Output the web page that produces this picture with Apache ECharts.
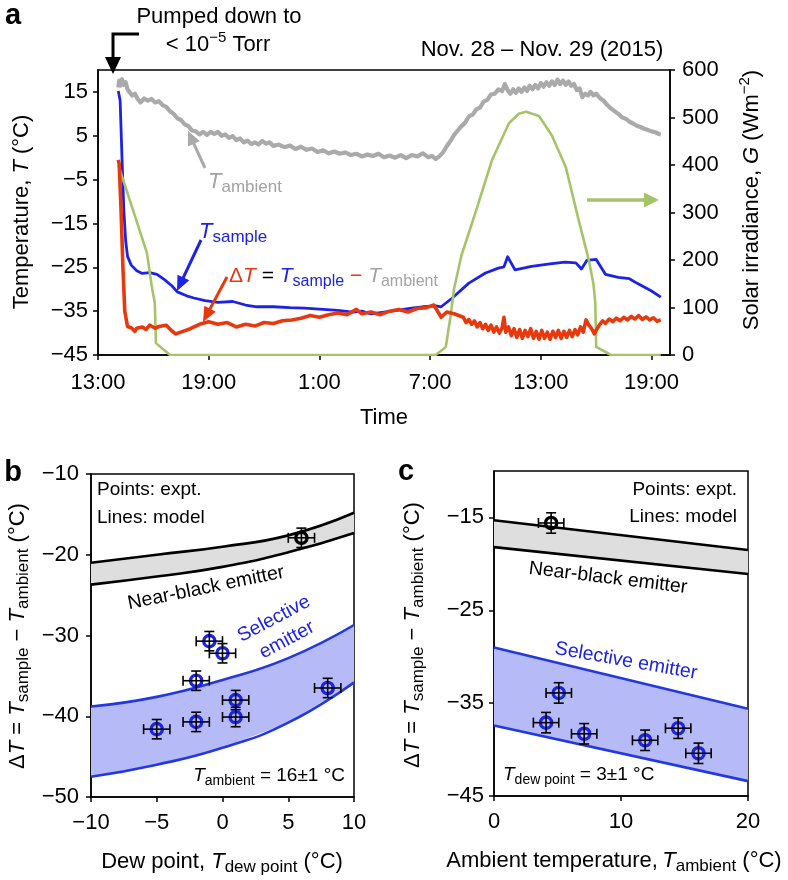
<!DOCTYPE html>
<html><head><meta charset="utf-8">
<script src="https://cdn.jsdelivr.net/npm/echarts@6/dist/echarts.min.js"></script>
<style>html,body{margin:0;padding:0;background:#fff}#c{width:788px;height:880px}</style>
</head><body><div id="c"></div>
<script>
// ---------------- Panel a data (x = hours after 13:00, Nov. 28) ----------------
const timeTickHours = [0, 6, 12, 18, 24, 30];
const timeTickLabels = ['13:00', '19:00', '1:00', '7:00', '13:00', '19:00'];
const tempTicks = [-45, -35, -25, -15, -5, 5, 15];

const ambientData = [[1.1,16.0],[1.15,17.6],[1.2,16.4],[1.3,17.9],[1.4,16.6],[1.5,17.2],[1.6,15.6],[1.7,15.0],[1.85,14.2],[2.0,14.6],[2.15,13.4],[2.3,12.6],[2.5,13.5],[2.7,13.0],[2.9,13.4],[3.1,12.6],[3.3,12.9],[3.5,12.0],[3.7,11.6],[3.9,10.6],[4.1,10.0],[4.3,9.0],[4.5,8.6],[4.7,7.6],[4.9,7.2],[5.1,6.2],[5.3,6.0],[5.5,5.3],[5.7,5.9],[5.9,5.2],[6.1,5.9],[6.3,5.4],[6.5,5.9],[6.7,5.0],[6.9,5.3],[7.1,4.5],[7.3,4.9],[7.5,4.0],[7.7,4.4],[7.9,3.5],[8.1,3.9],[8.3,3.1],[8.5,3.5],[8.7,3.0],[8.9,3.8],[9.1,3.2],[9.3,3.5],[9.5,2.7],[9.8,3.0],[10.1,2.4],[10.4,2.8],[10.7,2.0],[11.0,2.5],[11.3,1.8],[11.6,2.1],[11.9,1.3],[12.2,1.7],[12.5,1.0],[12.8,1.4],[13.1,0.9],[13.4,1.2],[13.7,0.6],[14.0,0.9],[14.3,0.3],[14.6,0.7],[14.9,0.4],[15.2,0.9],[15.5,0.1],[15.8,0.5],[16.1,0.0],[16.4,0.6],[16.7,-0.1],[17.0,0.6],[17.3,0.3],[17.6,1.0],[17.9,0.1],[18.1,0.4],[18.3,-0.3],[18.5,0.3],[18.7,1.2],[18.9,2.6],[19.1,3.8],[19.3,5.2],[19.5,6.2],[19.7,7.2],[19.9,8.0],[20.1,9.4],[20.3,9.8],[20.5,11.0],[20.7,11.4],[20.9,12.8],[21.1,13.2],[21.3,14.4],[21.5,14.6],[21.7,15.6],[21.9,15.2],[22.05,16.8],[22.2,15.4],[22.35,14.6],[22.5,15.6],[22.65,14.8],[22.8,15.8],[22.95,15.0],[23.1,16.0],[23.25,15.2],[23.4,16.4],[23.55,15.6],[23.7,16.6],[23.85,15.8],[24.0,17.0],[24.15,16.2],[24.3,17.2],[24.45,16.4],[24.6,17.4],[24.75,16.6],[24.9,17.8],[25.05,16.8],[25.2,17.6],[25.35,16.6],[25.5,17.4],[25.65,16.4],[25.8,16.8],[25.95,15.4],[26.1,15.8],[26.25,13.8],[26.4,14.6],[26.55,14.2],[26.7,15.0],[26.85,14.2],[27.0,14.6],[27.2,13.6],[27.4,13.0],[27.6,12.0],[27.8,11.2],[28.0,10.6],[28.2,10.0],[28.4,9.2],[28.6,8.9],[28.8,8.2],[29.0,7.8],[29.2,7.3],[29.4,7.0],[29.6,6.6],[29.8,6.3],[30.0,6.0],[30.2,5.8],[30.4,5.4],[30.5,5.3]];

const sampleData = [[1.1,15.2],[1.2,13.0],[1.3,0.0],[1.4,-12.0],[1.5,-19.0],[1.6,-22.5],[1.8,-24.5],[2.1,-25.8],[2.4,-26.4],[2.8,-26.2],[3.2,-26.6],[3.6,-27.8],[4.0,-29.2],[4.3,-30.6],[4.8,-31.5],[5.2,-32.0],[5.8,-32.6],[6.5,-33.0],[7.3,-32.8],[8.0,-33.6],[8.6,-34.0],[9.5,-34.0],[10.4,-34.2],[11.2,-34.3],[12.2,-34.6],[13.0,-34.8],[13.8,-35.2],[14.3,-35.0],[14.8,-35.6],[15.5,-35.2],[16.2,-34.8],[17.0,-34.3],[17.6,-34.0],[18.3,-33.8],[18.6,-34.0],[19.2,-32.0],[20.1,-28.6],[21.0,-26.3],[21.7,-25.2],[22.0,-24.9],[22.2,-22.6],[22.6,-25.6],[23.5,-24.8],[24.5,-24.2],[25.3,-23.8],[25.9,-24.0],[26.2,-25.4],[26.5,-23.4],[27.0,-23.2],[27.5,-26.6],[28.2,-27.3],[28.8,-27.6],[29.2,-28.6],[30.0,-30.4],[30.5,-31.8]];

const deltaData = [[1.1,-0.5],[1.15,-1.5],[1.25,-12.0],[1.35,-25.0],[1.45,-35.0],[1.6,-38.5],[1.8,-38.8],[2.0,-39.6],[2.1,-38.9],[2.4,-38.6],[2.6,-39.2],[2.8,-38.2],[3.1,-38.9],[3.3,-38.5],[3.7,-38.2],[4.0,-39.5],[4.2,-40.2],[4.6,-39.6],[5.0,-39.0],[5.5,-38.0],[6.0,-37.4],[6.5,-38.0],[7.0,-37.6],[7.5,-38.6],[8.0,-38.0],[8.5,-38.4],[9.0,-37.6],[9.5,-37.8],[10.0,-37.2],[10.5,-37.0],[11.0,-36.6],[11.5,-36.0],[12.0,-36.4],[12.5,-35.8],[13.0,-35.4],[13.5,-35.8],[14.0,-34.6],[14.3,-35.6],[14.8,-35.2],[15.3,-35.8],[15.8,-35.0],[16.3,-34.6],[16.8,-35.2],[17.3,-34.4],[17.8,-34.2],[18.2,-33.6],[18.6,-36.4],[18.9,-35.2],[19.3,-35.6],[19.8,-36.4],[19.95,-37.6],[20.1,-36.9],[20.25,-38.0],[20.4,-37.2],[20.55,-38.6],[20.7,-37.6],[20.85,-39.0],[21.0,-38.0],[21.15,-39.4],[21.3,-38.2],[21.45,-39.8],[21.6,-38.6],[21.75,-40.0],[21.9,-38.8],[22.0,-36.4],[22.1,-39.8],[22.25,-38.6],[22.4,-40.6],[22.55,-39.0],[22.7,-41.0],[22.85,-39.2],[23.0,-41.2],[23.15,-39.4],[23.3,-40.8],[23.45,-39.0],[23.6,-41.2],[23.75,-39.6],[23.9,-41.4],[24.05,-39.4],[24.2,-41.2],[24.35,-39.8],[24.5,-41.4],[24.65,-39.6],[24.8,-41.0],[24.95,-39.4],[25.1,-41.2],[25.25,-39.6],[25.4,-41.0],[25.55,-39.4],[25.7,-40.8],[25.85,-39.2],[26.0,-40.4],[26.15,-38.6],[26.3,-39.8],[26.45,-37.0],[26.6,-38.2],[26.75,-39.0],[26.9,-40.2],[27.05,-39.0],[27.2,-38.0],[27.35,-37.2],[27.5,-37.8],[27.7,-36.8],[27.9,-37.4],[28.1,-36.6],[28.3,-37.2],[28.5,-36.4],[28.7,-37.0],[28.9,-36.2],[29.1,-36.8],[29.3,-36.0],[29.5,-36.9],[29.7,-36.3],[29.9,-37.0],[30.1,-36.5],[30.3,-37.3],[30.5,-37.0]];

const solarData = [[1.1,400],[1.9,305],[2.65,215],[2.92,143],[3.08,109],[3.14,25],[3.9,0],[18.3,0],[18.85,17],[19.1,80],[19.3,140],[19.7,210],[20.5,305],[21.35,410],[22.27,488],[22.8,508],[23.2,512],[23.9,503],[24.6,462],[25.35,396],[26.05,284],[26.6,200],[26.85,150],[26.95,110],[27.0,17],[27.8,0],[30.5,0]];

// ---------------- Panel b data (dew point) ----------------
const bandBX = [-10, -5, 0, 5, 10];
const nearBlackUpperB = [-21.0, -20.0, -19.0, -17.6, -14.8];
const nearBlackLowerB = [-23.7, -22.7, -21.5, -19.7, -17.3];
const selectiveUpperB = [-38.8, -37.6, -35.5, -32.8, -28.7];
const selectiveLowerB = [-47.5, -46.0, -43.9, -40.8, -35.8];
const dewSelX = [-5, -2, -2, -1, 0, 1, 1, 8];
const dewSelY = [-41.6, -40.7, -35.6, -30.7, -32.2, -38.0, -40.1, -36.5];
const dewBlackX = [6];
const dewBlackY = [-17.9];
const errXB = 1, errYB = 1.2;

// ---------------- Panel c data (ambient temperature) ----------------
const bandCX = [0, 20];
const nearBlackUpperC = [-15.3, -18.5];
const nearBlackLowerC = [-18.2, -21.1];
const selectiveUpperC = [-29.0, -35.6];
const selectiveLowerC = [-37.4, -43.4];
const ambSelX = [4.1, 5.1, 7.1, 11.9, 14.5, 16.1];
const ambSelY = [-37.1, -33.9, -38.3, -39.0, -37.7, -40.4];
const ambBlackX = [4.5];
const ambBlackY = [-15.6];
const errXC = 1, errYC = 1.1;
const tempTicksC = [-45, -35, -25, -15];

// ---------------- styling ----------------
const F = "'Liberation Sans', Arial, Helvetica, sans-serif";
const C_GRAY = '#aaaaaa', C_BLUE = '#1c22e6', C_RED = '#e8380e', C_GREEN = '#a5c46a';
const C_BAND_BLUE = '#b6bbf7', C_BAND_GRAY = '#dedede', C_LINE_BLUE = '#2438e0';
const FS = 22;
const minus = v => String(v).replace('-', '\u2212');
const pairs = (xs, ys) => xs.map((x, i) => [x, ys[i]]);

function mkAxis(o) {
  const a = {
    type: 'value',
    axisLine: { show: true, onZero: false, lineStyle: { color: '#000', width: 1.5 } },
    axisTick: { show: true, length: 5, lineStyle: { color: '#000', width: 1.5 } },
    axisLabel: { color: '#000', fontFamily: F, fontSize: FS, formatter: minus },
    splitLine: { show: false }
  };
  for (const k in o) {
    if (typeof o[k] === 'object' && !Array.isArray(o[k]) && a[k]) Object.assign(a[k], o[k]);
    else a[k] = o[k];
  }
  return a;
}

function rich(S, colors) {
  const r = {};
  for (const k in colors) {
    const c = colors[k];
    r[k + 'n'] = { fontSize: S, fontFamily: F, fill: c, lineHeight: S * 1.3 };
    r[k + 'i'] = { fontSize: S, fontFamily: F, fill: c, fontStyle: 'italic', lineHeight: S * 1.3 };
    r[k + 's'] = { fontSize: Math.round(S * 0.75), fontFamily: F, fill: c, lineHeight: S * 0.45, verticalAlign: 'bottom' };
    r[k + 'p'] = { fontSize: Math.round(S * 0.7), fontFamily: F, fill: c, lineHeight: S * 0.45, verticalAlign: 'top' };
  }
  return r;
}
function txt(x, y, text, S, colors, opt) {
  opt = opt || {};
  return { type: 'text', x: x, y: y, rotation: (opt.rot || 0) * Math.PI / 180, z: 100,
    style: { text: text, rich: rich(S, colors), fontFamily: F, fontSize: S, fill: '#000',
      fontWeight: opt.bold ? 'bold' : 'normal',
      align: opt.align || 'center', verticalAlign: 'middle' } };
}
function arrow(x1, y1, x2, y2, color, w, hl, hw) {
  const ang = Math.atan2(y2 - y1, x2 - x1);
  const bx = x2 - hl * Math.cos(ang), by = y2 - hl * Math.sin(ang);
  const px = -Math.sin(ang) * hw / 2, py = Math.cos(ang) * hw / 2;
  return [
    { type: 'line', z: 50, shape: { x1: x1, y1: y1, x2: bx + (x2 - bx) * 0.2, y2: by + (y2 - by) * 0.2 }, style: { stroke: color, lineWidth: w } },
    { type: 'polygon', z: 50, shape: { points: [[x2, y2], [bx + px, by + py], [bx - px, by - py]] }, style: { fill: color } }
  ];
}

function lineSeries(data, yi, color, width, z) {
  return { type: 'line', xAxisIndex: 0, yAxisIndex: yi, data: data, showSymbol: false, symbol: 'none',
    lineStyle: { color: color, width: width, join: 'round' }, z: z, silent: true };
}
function curveSeries(xi, yi, xs, ys, color, smooth) {
  return { type: 'line', xAxisIndex: xi, yAxisIndex: yi, data: pairs(xs, ys), smooth: smooth,
    symbol: 'none', showSymbol: false, lineStyle: { color: color, width: 2.6 }, z: 4, silent: true };
}
function bandFill(xi, yi, xs, lower, upper, fill) {
  return { type: 'custom', xAxisIndex: xi, yAxisIndex: yi, data: [[xs[0], lower[0]]], z: 2, silent: true, clip: true,
    renderItem: function (params, api) {
      const top = xs.map((x, i) => api.coord([x, upper[i]]));
      const bot = xs.map((x, i) => api.coord([x, lower[i]])).reverse();
      return { type: 'polygon', shape: { points: top.concat(bot) }, style: { fill: fill } };
    } };
}
function pointSeries(xi, yi, xs, ys, ex, ey, ring) {
  return { type: 'custom', xAxisIndex: xi, yAxisIndex: yi, data: pairs(xs, ys), z: 10, silent: true,
    renderItem: function (params, api) {
      const x = api.value(0), y = api.value(1);
      const c = api.coord([x, y]);
      const l = api.coord([x - ex, y])[0], r = api.coord([x + ex, y])[0];
      const t = api.coord([x, y + ey])[1], b = api.coord([x, y - ey])[1];
      const cap = 5, ls = { stroke: '#000', lineWidth: 1.6 };
      const L = (x1, y1, x2, y2) => ({ type: 'line', shape: { x1: x1, y1: y1, x2: x2, y2: y2 }, style: ls });
      return { type: 'group', children: [
        { type: 'circle', shape: { cx: c[0], cy: c[1], r: 5.6 }, style: { fill: 'none', stroke: ring, lineWidth: 3.4 } },
        L(l, c[1], r, c[1]), L(l, c[1] - cap, l, c[1] + cap), L(r, c[1] - cap, r, c[1] + cap),
        L(c[0], t, c[0], b), L(c[0] - cap, t, c[0] + cap, t), L(c[0] - cap, b, c[0] + cap, b)
      ] };
    } };
}

const gridStyle = { show: true, borderColor: '#000', borderWidth: 1.5, backgroundColor: 'transparent', outerBoundsMode: 'none', containLabel: false };

const K = { k: '#000' };
const graphics = [].concat(
  [txt(13, 16, 'a', 29, K, { bold: true }), txt(13, 473, 'b', 29, K, { bold: true }), txt(406, 472, 'c', 29, K, { bold: true })],
  [txt(219, 17, '{kn|Pumped down to}', FS, K),
   txt(218, 45, '{kn|< 10}{kp|\u22125}{kn| Torr}', FS, K),
   txt(542, 50, '{kn|Nov. 28 \u2013 Nov. 29 (2015)}', FS, K),
   { type: 'polyline', z: 50, shape: { points: [[139, 34], [113, 34], [113, 58]] }, style: { stroke: '#000', lineWidth: 3, fill: 'none' } },
   { type: 'polygon', z: 50, shape: { points: [[113, 74], [105, 57], [121, 57]] }, style: { fill: '#000' } }],
  arrow(205, 168, 188, 131, C_GRAY, 3, 14, 13),
  [txt(208, 182, '{gi|T}{gs|ambient}', FS, { g: '#a3a3a3' }, { align: 'left' })],
  arrow(201, 240, 177, 291, C_BLUE, 3, 15, 13),
  [txt(199, 232, '{bi|T}{bs|sample}', FS, { b: C_BLUE }, { align: 'left' })],
  arrow(227, 277, 203, 322, C_RED, 3, 15, 13),
  [txt(229, 276, '{rn|\u0394}{ri|T}{kn| = }{bi|T}{bs|sample}{rn| \u2212 }{gi|T}{gs|ambient}', 21, { k: '#000', r: C_RED, b: C_BLUE, g: '#a3a3a3' }, { align: 'left' })],
  arrow(587, 200, 659, 200, C_GREEN, 3.5, 15, 15),
  [txt(22, 212, '{kn|Temperature, }{ki|T}{kn| (\u00b0C)}', FS, K, { rot: 90 }),
   txt(752, 200, '{kn|Solar irradiance, }{ki|G}{kn| (Wm}{kp|\u22122}{kn|)}', FS, K, { rot: 90 }),
   txt(384, 418, '{kn|Time}', FS, K)],
  [txt(97, 490, '{kn|Points: expt.}', 19, K, { align: 'left' }),
   txt(97, 518, '{kn|Lines: model}', 19, K, { align: 'left' }),
   txt(206, 588, '{kn|Near-black emitter}', 19.5, K, { rot: 11.5 }),
   txt(274, 619, '{bn|Selective}', 19.5, { b: C_BLUE }, { rot: 28 }),
   txt(287, 640, '{bn|emitter}', 19.5, { b: C_BLUE }, { rot: 28 }),
   txt(345, 776, '{ki|T}{ks|ambient}{kn| = 16\u00b11 \u00b0C}', 19, K, { align: 'right' }),
   txt(18, 636, '{kn|\u0394}{ki|T}{kn| = }{ki|T}{ks|sample}{kn| \u2212 }{ki|T}{ks|ambient}{kn| (\u00b0C)}', FS, K, { rot: 90 }),
   txt(222, 862, '{kn|Dew point, }{ki|T}{ks|dew point}{kn| (\u00b0C)}', FS, K)],
  [txt(737, 490, '{kn|Points: expt.}', 19, K, { align: 'right' }),
   txt(737, 517, '{kn|Lines: model}', 19, K, { align: 'right' }),
   txt(608, 578, '{kn|Near-black emitter}', 19.5, K, { rot: -7 }),
   txt(626, 661, '{bn|Selective emitter}', 19.5, { b: C_BLUE }, { rot: -10 }),
   txt(503, 775, '{ki|T}{ks|dew point}{kn| = 3\u00b11 \u00b0C}', 19, K, { align: 'left' }),
   txt(413, 635, '{kn|\u0394}{ki|T}{kn| = }{ki|T}{ks|sample}{kn| \u2212 }{ki|T}{ks|ambient}{kn| (\u00b0C)}', FS, K, { rot: 90 }),
   txt(614, 861, '{kn|Ambient temperature,\u2009}{ki|T}{ks|ambient}{kn| (\u00b0C)}', FS, K)]
);

const option = {
  animation: false,
  backgroundColor: '#fff',
  textStyle: { fontFamily: F },
  grid: [
    Object.assign({ left: 98, top: 70, width: 572, height: 285 }, gridStyle),
    Object.assign({ left: 91, top: 474, width: 263, height: 323 }, gridStyle),
    Object.assign({ left: 494, top: 471, width: 254, height: 325 }, gridStyle)
  ],
  xAxis: [
    mkAxis({ gridIndex: 0, min: 0, max: 31,
      axisLabel: { margin: 17, customValues: timeTickHours, formatter: v => { const i = timeTickHours.indexOf(v); return i >= 0 ? timeTickLabels[i] : ''; } },
      axisTick: { customValues: timeTickHours } }),
    mkAxis({ gridIndex: 1, min: -10, max: 10, interval: 5, axisLabel: { margin: 15 } }),
    mkAxis({ gridIndex: 2, min: 0, max: 20, interval: 10, axisLabel: { margin: 15 } })
  ],
  yAxis: [
    mkAxis({ gridIndex: 0, position: 'left', min: -45, max: 20,
      axisLabel: { margin: 10, customValues: tempTicks }, axisTick: { customValues: tempTicks } }),
    mkAxis({ gridIndex: 0, position: 'right', min: 0, max: 600, interval: 100, axisLabel: { margin: 12 } }),
    mkAxis({ gridIndex: 1, min: -50, max: -10, interval: 10, axisLabel: { margin: 12 } }),
    mkAxis({ gridIndex: 2, min: -45, max: -10,
      axisLabel: { margin: 10, customValues: tempTicksC }, axisTick: { customValues: tempTicksC } })
  ],
  series: [].concat(
    [lineSeries(ambientData, 0, C_GRAY, 4.2, 2),
     lineSeries(sampleData, 0, C_BLUE, 2.8, 3),
     lineSeries(solarData, 1, C_GREEN, 2.6, 4),
     lineSeries(deltaData, 0, C_RED, 3.6, 5)],
    [bandFill(1, 2, bandBX, nearBlackLowerB, nearBlackUpperB, C_BAND_GRAY),
     bandFill(1, 2, bandBX, selectiveLowerB, selectiveUpperB, C_BAND_BLUE),
     curveSeries(1, 2, bandBX, nearBlackUpperB, '#000', true),
     curveSeries(1, 2, bandBX, nearBlackLowerB, '#000', true),
     curveSeries(1, 2, bandBX, selectiveUpperB, C_LINE_BLUE, true),
     curveSeries(1, 2, bandBX, selectiveLowerB, C_LINE_BLUE, true),
     pointSeries(1, 2, dewSelX, dewSelY, errXB, errYB, C_BLUE),
     pointSeries(1, 2, dewBlackX, dewBlackY, errXB, errYB, '#000')],
    [bandFill(2, 3, bandCX, nearBlackLowerC, nearBlackUpperC, C_BAND_GRAY),
     bandFill(2, 3, bandCX, selectiveLowerC, selectiveUpperC, C_BAND_BLUE),
     curveSeries(2, 3, bandCX, nearBlackUpperC, '#000', false),
     curveSeries(2, 3, bandCX, nearBlackLowerC, '#000', false),
     curveSeries(2, 3, bandCX, selectiveUpperC, C_LINE_BLUE, false),
     curveSeries(2, 3, bandCX, selectiveLowerC, C_LINE_BLUE, false),
     pointSeries(2, 3, ambSelX, ambSelY, errXC, errYC, C_BLUE),
     pointSeries(2, 3, ambBlackX, ambBlackY, errXC, errYC, '#000')]
  ),
  graphic: { elements: graphics }
};

const chart = echarts.init(document.getElementById('c'), null, { renderer: 'canvas', width: 788, height: 880 });
chart.setOption(option);
</script>
</body></html>
